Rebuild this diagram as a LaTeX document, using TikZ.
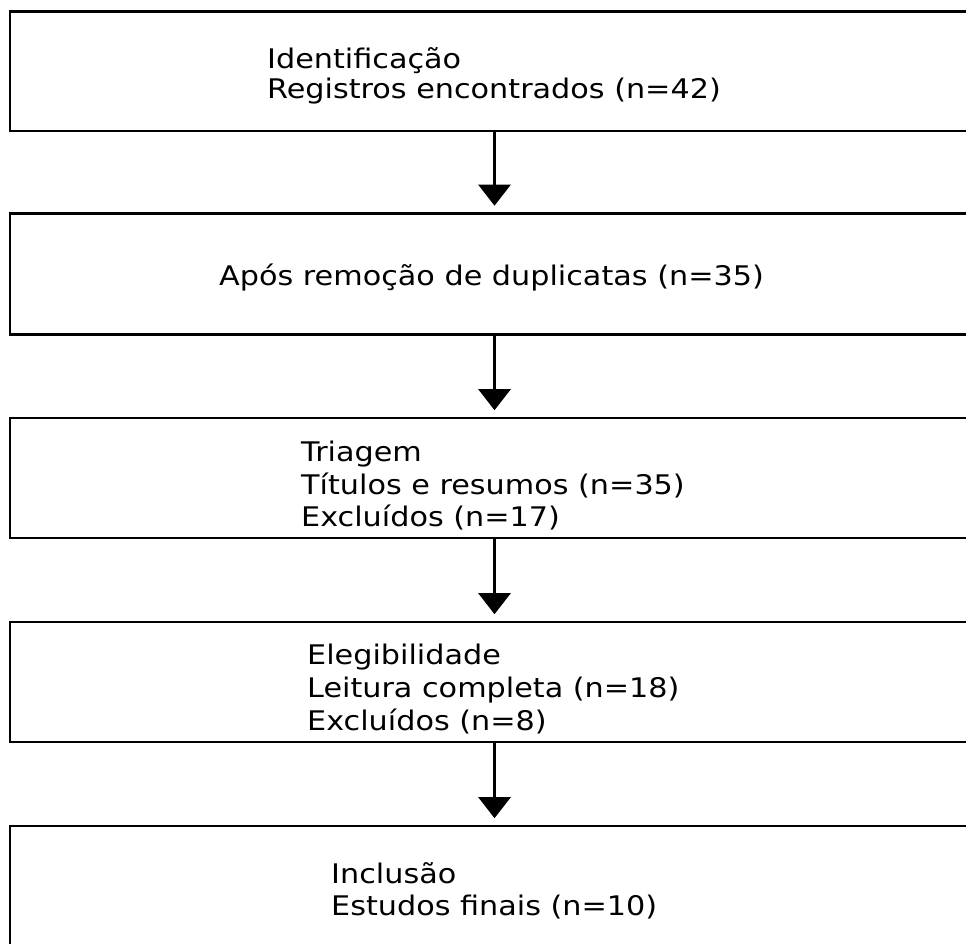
\documentclass[tikz,border=0pt]{standalone}
\usepackage{fontspec}
\setmainfont{DejaVu Sans}[FakeStretch=1.12]
\usetikzlibrary{arrows.meta}
\begin{document}
\begin{tikzpicture}[x=1pt,y=-1pt,
  box/.style={draw=black, line width=2.6pt, rectangle, inner sep=0pt, minimum width=975pt},
  txt/.style={anchor=base west, inner sep=0pt, font=\fontsize{27}{32}\selectfont},
  flow/.style={line width=2.6pt, -{Triangle[width=32pt,length=21pt]}, shorten >=6.5pt}]
\clip (0,0) rectangle (966,943);
\fill[white] (0,0) rectangle (966,943);
% boxes
\node[box, minimum height=119.5pt] (b1) at (497.5,71.25) {};
\node[box, minimum height=121pt]   (b2) at (497.5,274) {};
\node[box, minimum height=120pt]   (b3) at (497.5,478) {};
\node[box, minimum height=120pt]   (b4) at (497.5,682) {};
\node[box, minimum height=120pt]   (b5) at (497.5,886) {};
% texts
\node[txt] (t11) at (267,68) {Identificação};
\node[txt] (t12) at (267,98) {Registros encontrados (n=42)};
\node[txt] (t21) at (219,285) {Após remoção de duplicatas (n=35)};
\node[txt] (t31) at (301,461) {Triagem};
\node[txt] (t32) at (301,494) {Títulos e resumos (n=35)};
\node[txt] (t33) at (301,526) {Excluídos (n=17)};
\node[txt] (t41) at (307,664) {Elegibilidade};
\node[txt] (t42) at (307,697) {Leitura completa (n=18)};
\node[txt] (t43) at (307,730) {Excluídos (n=8)};
\node[txt] (t51) at (331,883) {Inclusão};
\node[txt] (t52) at (331,915) {Estudos finais (n=10)};
% connectors
\coordinate (ax) at (494.5,0);
\draw[flow] (b1.south -| ax) -- (b2.north -| ax);
\draw[flow] (b2.south -| ax) -- (b3.north -| ax);
\draw[flow] (b3.south -| ax) -- (b4.north -| ax);
\draw[flow] (b4.south -| ax) -- (b5.north -| ax);
\end{tikzpicture}
\end{document}
